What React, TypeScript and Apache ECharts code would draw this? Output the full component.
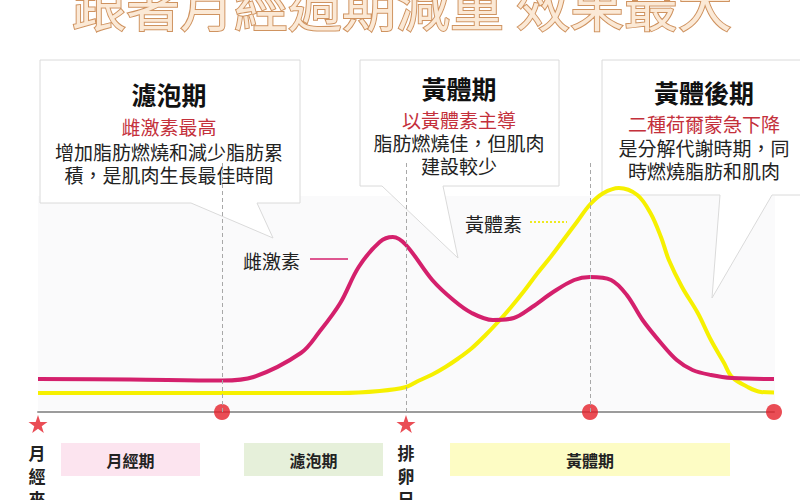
import React, { useEffect, useRef } from 'react';
import * as echarts from 'echarts';

// Day of cycle (0-28) and relative hormone level (0-100)
const estrogenDays = [0, 3.5, 7, 8.2, 10, 10.7, 11.5, 12.2, 13, 13.5, 14, 15, 15.8, 16.5, 17.3, 18.1, 18.8, 19.6, 20.4, 21, 21.8, 22.4, 23, 23.7, 24.3, 24.9, 25.6, 26.4, 28];
const estrogenLevels = [13.2, 13, 12.6, 14, 23.6, 32, 43.6, 58, 68, 70, 66.8, 52.8, 44.8, 39.6, 36.8, 37.6, 42, 48, 52.8, 54, 52.8, 46.8, 36.8, 27.6, 20.8, 16.8, 14.8, 13.6, 13.2];

const progesteroneDays = [0, 7, 11.5, 13, 14, 14.5, 15, 15.5, 16, 16.5, 17, 17.5, 18, 18.5, 19, 19.5, 20, 20.5, 21, 21.5, 22.1, 22.8, 23.3, 23.7, 24, 24.5, 25.1, 25.6, 26.1, 26.4, 27, 27.5, 28];
const progesteroneLevels = [7.6, 7.6, 7.6, 8.4, 10, 12.6, 15, 18, 21.5, 25.5, 30.5, 36, 42, 48.5, 55.5, 62, 69, 76, 83, 87.5, 89.6, 86.8, 79.6, 70, 60.8, 50, 39.6, 28.8, 19.6, 14, 10, 8, 7.8];

const starDays = [0, 14];
const dotDays = [7, 21, 28];
const phaseLineDays = [7, 14, 21];

const seriesNames = ['雌激素', '黃體素'];
const titleText = '跟著月經週期減重 效果最大';
const phaseNames = ['月經期', '濾泡期', '黃體期'];
const startLabel = ['月', '經', '來'];
const ovulationLabel = ['排', '卵', '日'];

const bubbleTitles = ['濾泡期', '黃體期', '黃體後期'];
const bubbleSubtitles = ['雌激素最高', '以黃體素主導', '二種荷爾蒙急下降'];
const bubbleBodies = [
  ['增加脂肪燃燒和減少脂肪累', '積，是肌肉生長最佳時間'],
  ['脂肪燃燒佳，但肌肉', '建設較少'],
  ['是分解代謝時期，同', '時燃燒脂肪和肌肉'],
];

const FONT = '"Noto Sans CJK TC", "Noto Sans CJK SC", sans-serif';
const STAR = 'path://M50,0 L61.8,35.1 L98.1,35.1 L68.8,56.7 L79.4,90.5 L50,69.6 L20.6,90.5 L31.2,56.7 L1.9,35.1 L38.2,35.1 Z';

function txt(text: string, x: number, y: number, size: number, color: string, weight = 'normal', z = 0) {
  return {
    type: 'text',
    z,
    style: {
      text,
      x,
      y,
      fill: color,
      fontSize: size,
      lineHeight: size,
      fontWeight: weight,
      fontFamily: FONT,
      textAlign: 'center',
      textVerticalAlign: 'middle',
      align: 'center',
      verticalAlign: 'middle',
    },
  };
}

export default function App() {
  const ref = useRef<HTMLDivElement>(null);

  useEffect(() => {
    if (!ref.current) return;
    const chart = echarts.init(ref.current, null, { renderer: 'svg' });

    const boxes = [
      { cx: 169, ys: [94, 126, 151, 174], pts: [[40, 60], [300, 60], [300, 203], [257, 203], [273, 238], [191, 203], [40, 203]] },
      { cx: 459, ys: [88, 119, 142, 165], pts: [[360, 60], [559, 60], [559, 186], [443, 186], [458, 258], [382, 186], [360, 186]] },
      { cx: 704, ys: [92, 123, 147, 170], pts: [[602, 60], [806, 60], [806, 195], [772, 195], [712, 298], [720, 195], [602, 195]] },
    ];

    const graphics: any[] = [
      { type: 'rect', z: 0, shape: { x: 38, y: 196, width: 737, height: 214 }, style: { fill: '#fafafb' } },
    ];
    boxes.forEach((b, i) => {
      graphics.push({ type: 'polygon', z: 0, shape: { points: b.pts }, style: { fill: '#ffffff', stroke: '#dadada', lineWidth: 1 } });
      graphics.push(txt(bubbleTitles[i], b.cx, b.ys[0], 25, '#111111', 'bold'));
      graphics.push(txt(bubbleSubtitles[i], b.cx, b.ys[1], 19, '#c4303b'));
      graphics.push(txt(bubbleBodies[i][0], b.cx, b.ys[2], 19, '#222222'));
      graphics.push(txt(bubbleBodies[i][1], b.cx, b.ys[3], 19, '#222222'));
    });

    // title (cropped at top)
    graphics.push({
      type: 'text',
      z: 0,
      style: {
        text: titleText,
        x: 402,
        y: 3,
        fill: '#fbe9d6',
        stroke: '#cf9360',
        lineWidth: 2,
        fontSize: 54,
        fontFamily: FONT,
        textAlign: 'center',
        textVerticalAlign: 'middle',
        align: 'center',
        verticalAlign: 'middle',
        shadowBlur: 3,
        shadowColor: 'rgba(150,90,40,0.55)',
        shadowOffsetY: 2,
      },
    });

    // series annotations
    graphics.push({ type: 'text', z: 0, style: { text: seriesNames[0], x: 300, y: 260, fill: '#222', fontSize: 19, fontFamily: FONT, textAlign: 'right', textVerticalAlign: 'middle', align: 'right', verticalAlign: 'middle' } });
    graphics.push({ type: 'line', z: 0, shape: { x1: 310, y1: 259, x2: 348, y2: 259 }, style: { stroke: '#d4206c', lineWidth: 1.5 } });
    graphics.push({ type: 'text', z: 0, style: { text: seriesNames[1], x: 522, y: 223, fill: '#222', fontSize: 19, fontFamily: FONT, textAlign: 'right', textVerticalAlign: 'middle', align: 'right', verticalAlign: 'middle' } });
    graphics.push({ type: 'line', z: 0, shape: { x1: 530, y1: 222, x2: 567, y2: 222 }, style: { stroke: '#eeea20', lineWidth: 2, lineDash: [2, 2] } });

    // phase bars
    const bars = [
      { x: 61, w: 139, fill: '#fce4ef' },
      { x: 244, w: 139, fill: '#e6f0da' },
      { x: 450, w: 280, fill: '#fdfcc4' },
    ];
    bars.forEach((b, i) => {
      graphics.push({ type: 'rect', z: 0, shape: { x: b.x, y: 443, width: b.w, height: 33 }, style: { fill: b.fill } });
      graphics.push(txt(phaseNames[i], b.x + b.w / 2, 460, 16, '#222222', 'bold'));
    });

    // vertical labels
    startLabel.forEach((c, i) => graphics.push(txt(c, 37, 452 + i * 23, 17, '#222222', 'bold')));
    ovulationLabel.forEach((c, i) => graphics.push(txt(c, 406, 452 + i * 23, 17, '#222222', 'bold')));

    chart.setOption({
      animation: false,
      backgroundColor: '#ffffff',
      grid: { left: 38, right: 26, top: 162, bottom: 88, containLabel: false },
      xAxis: {
        type: 'value',
        min: 0,
        max: 28,
        axisLine: { show: true, lineStyle: { color: '#9c9c9c', width: 2 } },
        axisTick: { show: false },
        axisLabel: { show: false },
        splitLine: { show: false },
      },
      yAxis: { type: 'value', min: 0, max: 100, show: false },
      graphic: graphics,
      series: [
        {
          type: 'scatter',
          z: 1,
          symbolSize: 0,
          data: phaseLineDays.map((d) => [d, 0]),
          markLine: {
            silent: true,
            symbol: ['none', 'none'],
            label: { show: false },
            lineStyle: { color: '#a8a8a8', type: [4, 3], width: 1 },
            data: phaseLineDays.map((d) => ({ xAxis: d })),
          },
        },
        {
          name: seriesNames[1],
          type: 'line',
          z: 2,
          smooth: 0.35,
          showSymbol: false,
          lineStyle: { color: '#f6f000', width: 4 },
          data: progesteroneDays.map((d, i) => [d, progesteroneLevels[i]]),
        },
        {
          name: seriesNames[0],
          type: 'line',
          z: 2,
          smooth: 0.35,
          showSymbol: false,
          lineStyle: { color: '#d4206c', width: 4 },
          data: estrogenDays.map((d, i) => [d, estrogenLevels[i]]),
        },
        {
          type: 'scatter',
          z: 4,
          symbol: 'circle',
          symbolSize: 16,
          itemStyle: { color: '#e5202b' },
          data: dotDays.map((d) => [d, 0]),
        },
        {
          type: 'scatter',
          z: 4,
          symbol: STAR,
          symbolSize: 19,
          symbolKeepAspect: true,
          symbolOffset: [0, 12],
          itemStyle: { color: '#e5202b' },
          data: starDays.map((d) => [d, 0]),
        },
      ],
    });

    return () => chart.dispose();
  }, []);

  return (
    <div
      ref={ref}
      style={{ position: 'absolute', left: 0, top: 0, width: 800, height: 500, background: '#fff' }}
    />
  );
}
